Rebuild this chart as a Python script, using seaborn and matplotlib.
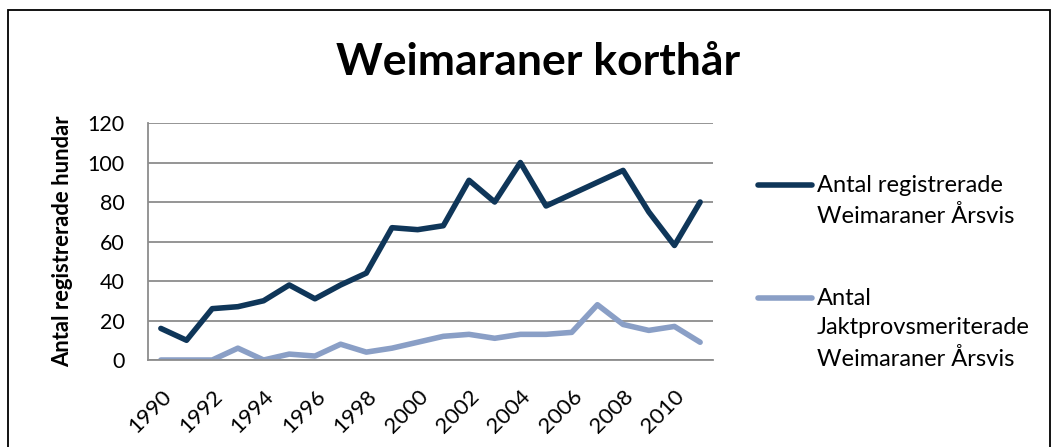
import numpy as np
import pandas as pd
import matplotlib.pyplot as plt
import seaborn as sns
from matplotlib.lines import Line2D
from matplotlib.patches import Rectangle

years = list(range(1990, 2012))
registrerade = [16, 10, 26, 27, 30, 38, 31, 38, 44, 67, 66, 68,
                91, 80, 100, 78, 84, 90, 96, 75, 58, 80]
jaktprov = [0, 0, 0, 6, 0, 3, 2, 8, 4, 6, 9, 12,
            13, 11, 13, 13, 14, 28, 18, 15, 17, 9]
serie_namn = ["Antal registrerade\nWeimaraner Årsvis",
              "Antal\nJaktprovsmeriterade\nWeimaraner Årsvis"]
farger = ["#0F3659", "#8A9FC6"]
y_ticks = [0, 20, 40, 60, 80, 100, 120]

sns.set_style("white")
plt.rcParams['font.family'] = ['Lato', 'DejaVu Sans']
plt.rcParams.update({"text.color": "black", "xtick.color": "black",
                     "ytick.color": "black", "axes.labelcolor": "black"})

df = pd.DataFrame({
    "idx": list(range(len(years))) * 2,
    "varde": registrerade + jaktprov,
    "serie": [serie_namn[0]] * len(years) + [serie_namn[1]] * len(years),
})

fig = plt.figure(figsize=(10.55, 4.47), dpi=100)
ax = fig.add_axes([0.1403, 0.1946, 0.5355, 0.5302])

sns.lineplot(data=df, x="idx", y="varde", hue="serie", palette=farger,
             linewidth=4.0, ax=ax, legend=False, solid_capstyle="round",
             solid_joinstyle="round")

ax.set_xlim(-0.5, len(years) - 0.5)
ax.set_ylim(0, 120)
ax.set_yticks(y_ticks)
ax.set_yticklabels([str(v) for v in y_ticks], fontsize=15.5)
ax.yaxis.grid(True, color="#8c8c8c", linewidth=1.3)
ax.set_axisbelow(True)

xt = list(range(0, len(years), 2))
ax.set_xticks(xt)
ax.set_xticklabels([str(years[i]) for i in xt], rotation=45, ha="right",
                   rotation_mode="anchor", fontsize=16)
ax.tick_params(axis="y", length=0, pad=17)
ax.tick_params(axis="x", length=0, pad=19)

for s in ["top", "right"]:
    ax.spines[s].set_visible(False)
for s in ["left", "bottom"]:
    ax.spines[s].set_color("#8c8c8c")
    ax.spines[s].set_linewidth(1.3)

ax.set_xlabel("")
ax.set_ylabel("Antal registrerade hundar", fontsize=15.8, fontweight="bold")
ax.yaxis.set_label_coords(-0.133, 0.5)

fig.text(0.51, 0.861, "Weimaraner korthår", ha="center", va="center",
         fontsize=32, fontweight="bold")

# legend drawn by hand so the line sits on the first text row
leg_rows = [185, 298]
for namn, farg, y in zip(serie_namn, farger, leg_rows):
    fig.add_artist(Line2D([758 / 1055, 812 / 1055], [1 - y / 447, 1 - y / 447],
                          color=farg, linewidth=4.0, solid_capstyle="round",
                          transform=fig.transFigure))
    fig.text(817 / 1055, 1 - (y - 10) / 447, namn, ha="left", va="top",
             fontsize=17, linespacing=1.5)

fig.add_artist(Rectangle((8 / 1055, -0.05), 1042 / 1055, 1.05 - 10 / 447,
                         fill=False, edgecolor="black", linewidth=1.3,
                         transform=fig.transFigure))

plt.savefig("out.png", dpi=100)
plt.close()
